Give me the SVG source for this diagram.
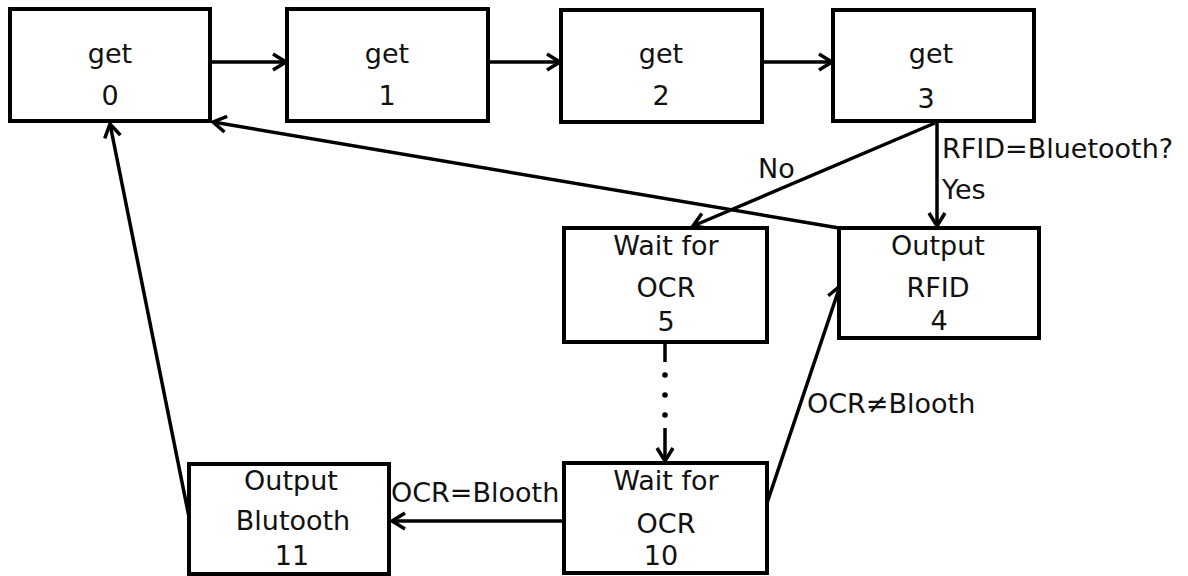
<svg xmlns="http://www.w3.org/2000/svg" width="1188" height="576" viewBox="0 0 1188 576">
<style>
.box{fill:#fff;stroke:#000;stroke-width:4}
.t{font-family:"DejaVu Sans","Liberation Sans",sans-serif;font-size:27px;fill:#111;text-anchor:middle}
.l{font-family:"DejaVu Sans","Liberation Sans",sans-serif;font-size:27px;fill:#111}
.c{stroke:#000;stroke-width:3.5;fill:none}
.a{marker-end:url(#arr)}
</style>
<defs>
<marker id="arr" viewBox="0 0 20 20" refX="17" refY="10" markerWidth="20" markerHeight="20" markerUnits="userSpaceOnUse" orient="auto">
<path d="M4,2 L17,10 L4,18" fill="none" stroke="#000" stroke-width="3.5"/>
</marker>
</defs>
<rect width="1188" height="576" fill="#fff"/>
<g id="connectors">
<line class="c a" x1="212" y1="62" x2="286" y2="62"/>
<line class="c a" x1="490" y1="62" x2="560" y2="62"/>
<line class="c a" x1="764" y1="62" x2="832" y2="62"/>
<line class="c a" x1="937" y1="123" x2="937" y2="226"/>
<line class="c a" x1="935" y1="123" x2="693" y2="226"/>
<line class="c a" x1="839" y1="228" x2="213" y2="122"/>
<line class="c a" x1="189" y1="517" x2="110" y2="124"/>
<line class="c" x1="665" y1="344" x2="665" y2="362"/>
<circle cx="665" cy="375" r="2.8"/>
<circle cx="665" cy="395" r="2.8"/>
<circle cx="665" cy="415" r="2.8"/>
<line class="c a" x1="665" y1="428" x2="665" y2="461"/>
<line class="c a" x1="564" y1="521" x2="392" y2="521"/>
<line class="c a" x1="767" y1="503" x2="840" y2="286"/>
<text class="l" x="758" y="178">No</text>
<text class="l" x="942" y="158">RFID=Bluetooth?</text>
<text class="l" x="942" y="199">Yes</text>
<text class="l" x="391" y="502">OCR=Blooth</text>
<text class="l" x="807" y="413">OCR≠Blooth</text>
</g>
<g id="n0"><rect class="box" x="10" y="9" width="200" height="112"/><text class="t" x="110" y="63">get</text><text class="t" x="110" y="105">0</text></g>
<g id="n1"><rect class="box" x="287" y="9" width="201" height="112"/><text class="t" x="387" y="63">get</text><text class="t" x="387" y="105">1</text></g>
<g id="n2"><rect class="box" x="561" y="10" width="201" height="112"/><text class="t" x="661" y="63">get</text><text class="t" x="661" y="105">2</text></g>
<g id="n3"><rect class="box" x="833" y="10" width="201" height="111"/><text class="t" x="931" y="63">get</text><text class="t" x="926" y="108">3</text></g>
<g id="n4"><rect class="box" x="839" y="228" width="200" height="110"/><text class="t" x="938" y="255">Output</text><text class="t" x="938" y="297">RFID</text><text class="t" x="939" y="330">4</text></g>
<g id="n5"><rect class="box" x="564" y="228" width="203" height="114"/><text class="t" x="666" y="255">Wait for</text><text class="t" x="666" y="297">OCR</text><text class="t" x="666" y="331">5</text></g>
<g id="n10"><rect class="box" x="564" y="463" width="203" height="110"/><text class="t" x="666" y="490">Wait for</text><text class="t" x="666" y="533">OCR</text><text class="t" x="661" y="565">10</text></g>
<g id="n11"><rect class="box" x="189" y="464" width="200" height="110"/><text class="t" x="291" y="490">Output</text><text class="t" x="293" y="530">Blutooth</text><text class="t" x="292" y="565">11</text></g>
</svg>
